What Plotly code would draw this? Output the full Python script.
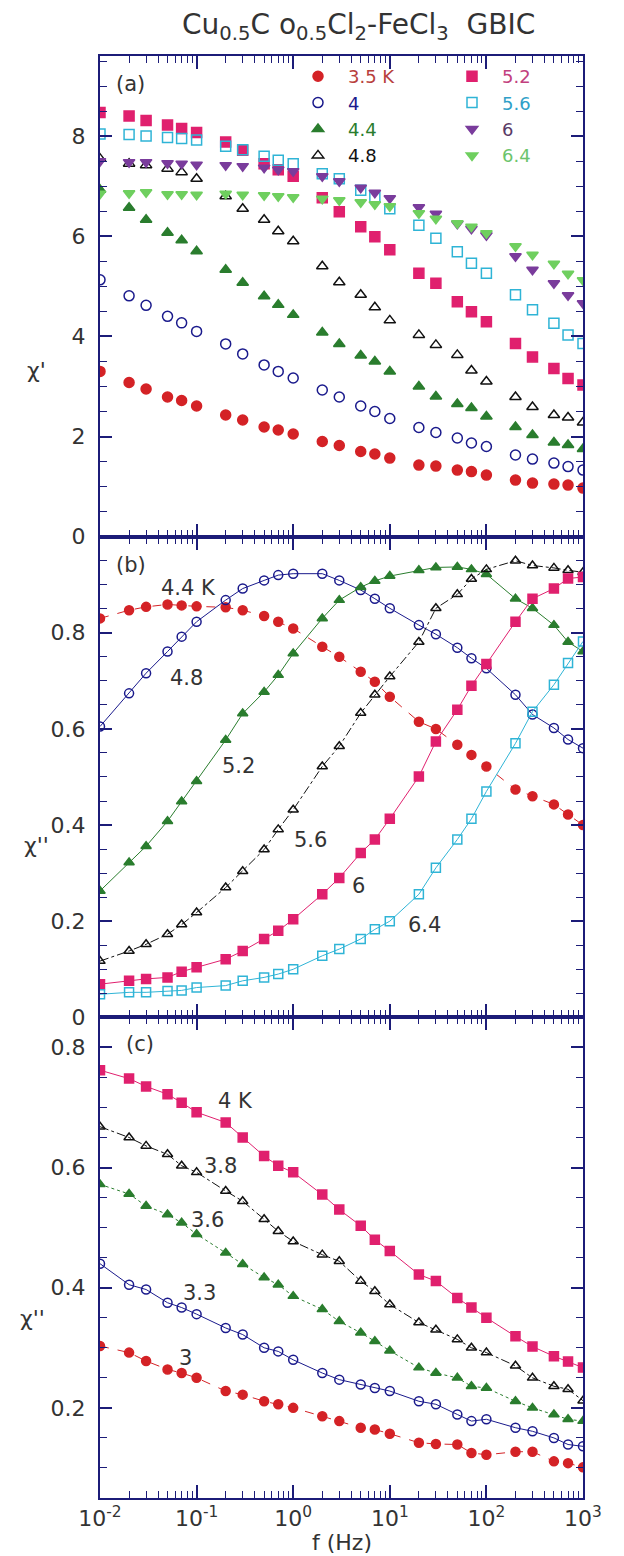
import plotly.graph_objects as go

# frequencies (Hz), shared by every series
freq = [0.01, 0.02, 0.03, 0.05, 0.07, 0.1, 0.2, 0.3, 0.5, 0.7, 1, 2, 3, 5, 7,
        10, 20, 30, 50, 70, 100, 200, 300, 500, 700, 1000]

# panel (a): chi' at 3.5 ... 6.4 K
a_35 = [3.30, 3.08, 2.95, 2.79, 2.72, 2.61, 2.43, 2.33, 2.19, 2.13, 2.05, 1.90, 1.82,
        1.70, 1.65, 1.57, 1.43, 1.41, 1.33, 1.30, 1.23, 1.13, 1.07, 1.05, 1.03, 0.97]
a_40 = [5.13, 4.81, 4.62, 4.40, 4.27, 4.10, 3.85, 3.65, 3.43, 3.30, 3.17, 2.93, 2.79,
        2.61, 2.50, 2.36, 2.18, 2.08, 1.97, 1.87, 1.80, 1.63, 1.55, 1.47, 1.40, 1.33]
a_44 = [6.93, 6.57, 6.33, 6.07, 5.92, 5.70, 5.33, 5.07, 4.80, 4.63, 4.43, 4.08, 3.85,
        3.62, 3.50, 3.30, 3.00, 2.80, 2.65, 2.57, 2.40, 2.19, 2.03, 1.88, 1.83, 1.75]
a_48 = [7.55, 7.45, 7.42, 7.35, 7.28, 7.15, 6.80, 6.55, 6.33, 6.10, 5.90, 5.40, 5.08,
        4.83, 4.58, 4.32, 4.03, 3.83, 3.63, 3.32, 3.10, 2.79, 2.59, 2.43, 2.38, 2.28]
a_52 = [8.47, 8.40, 8.31, 8.22, 8.15, 8.07, 7.88, 7.72, 7.45, 7.33, 7.20, 6.77, 6.49,
        6.19, 5.99, 5.73, 5.26, 5.06, 4.69, 4.49, 4.29, 3.86, 3.59, 3.36, 3.16, 3.03]
a_56 = [8.04, 8.03, 8.00, 7.97, 7.95, 7.92, 7.80, 7.73, 7.60, 7.52, 7.45, 7.25, 7.15,
        6.92, 6.78, 6.55, 6.22, 5.96, 5.69, 5.46, 5.26, 4.83, 4.53, 4.26, 4.03, 3.86]
a_60 = [7.50, 7.48, 7.48, 7.46, 7.45, 7.43, 7.42, 7.40, 7.37, 7.33, 7.30, 7.20, 7.10,
        6.97, 6.87, 6.76, 6.58, 6.45, 6.25, 6.15, 6.02, 5.60, 5.33, 5.06, 4.82, 4.66]
a_64 = [6.85, 6.86, 6.88, 6.84, 6.84, 6.83, 6.85, 6.83, 6.82, 6.80, 6.78, 6.75, 6.72,
        6.68, 6.64, 6.60, 6.46, 6.35, 6.26, 6.19, 6.06, 5.80, 5.63, 5.45, 5.25, 5.12]

# panel (b): 4.4 ... 6.4 K
b_44 = [0.830, 0.847, 0.854, 0.859, 0.857, 0.855, 0.853, 0.847, 0.835, 0.823, 0.809, 0.771, 0.750,
        0.719, 0.698, 0.667, 0.615, 0.600, 0.567, 0.546, 0.522, 0.474, 0.460, 0.443, 0.422, 0.400]
b_48 = [0.605, 0.674, 0.716, 0.761, 0.792, 0.823, 0.868, 0.892, 0.909, 0.920, 0.923, 0.923, 0.909,
        0.889, 0.871, 0.851, 0.816, 0.797, 0.769, 0.747, 0.726, 0.671, 0.630, 0.602, 0.578, 0.560]
b_52 = [0.263, 0.322, 0.356, 0.408, 0.449, 0.491, 0.577, 0.632, 0.677, 0.712, 0.757, 0.830, 0.868,
        0.895, 0.908, 0.918, 0.930, 0.936, 0.937, 0.932, 0.922, 0.871, 0.851, 0.816, 0.781, 0.761]
b_56 = [0.117, 0.138, 0.152, 0.173, 0.193, 0.218, 0.270, 0.304, 0.349, 0.391, 0.432, 0.522, 0.564,
        0.633, 0.671, 0.709, 0.781, 0.851, 0.880, 0.912, 0.932, 0.950, 0.940, 0.935, 0.930, 0.926]
b_60 = [0.069, 0.076, 0.080, 0.083, 0.095, 0.104, 0.121, 0.138, 0.163, 0.180, 0.204, 0.256, 0.290,
        0.342, 0.370, 0.413, 0.501, 0.574, 0.640, 0.690, 0.735, 0.823, 0.871, 0.892, 0.913, 0.916]
b_64 = [0.048, 0.052, 0.052, 0.055, 0.056, 0.062, 0.066, 0.076, 0.083, 0.090, 0.100, 0.128, 0.142,
        0.163, 0.183, 0.200, 0.256, 0.311, 0.370, 0.413, 0.470, 0.570, 0.636, 0.692, 0.737, 0.782]

# panel (c): 3 ... 4 K
c_40 = [0.762, 0.748, 0.735, 0.722, 0.708, 0.692, 0.675, 0.650, 0.619, 0.603, 0.592, 0.555, 0.530,
        0.503, 0.480, 0.461, 0.422, 0.411, 0.383, 0.367, 0.350, 0.319, 0.302, 0.286, 0.277, 0.267]
c_38 = [0.668, 0.650, 0.636, 0.622, 0.603, 0.592, 0.561, 0.544, 0.514, 0.494, 0.477, 0.455, 0.444,
        0.411, 0.394, 0.372, 0.342, 0.330, 0.314, 0.300, 0.292, 0.270, 0.250, 0.236, 0.231, 0.212]
c_36 = [0.572, 0.556, 0.536, 0.522, 0.508, 0.489, 0.458, 0.439, 0.417, 0.405, 0.386, 0.364, 0.344,
        0.325, 0.311, 0.295, 0.267, 0.258, 0.250, 0.236, 0.233, 0.211, 0.200, 0.189, 0.181, 0.178]
c_33 = [0.440, 0.405, 0.397, 0.375, 0.367, 0.356, 0.333, 0.322, 0.300, 0.294, 0.280, 0.258, 0.247,
        0.239, 0.233, 0.228, 0.211, 0.206, 0.189, 0.178, 0.181, 0.167, 0.161, 0.150, 0.139, 0.136]
c_30 = [0.303, 0.292, 0.278, 0.264, 0.258, 0.250, 0.228, 0.222, 0.211, 0.206, 0.200, 0.186, 0.178,
        0.167, 0.164, 0.157, 0.142, 0.140, 0.139, 0.125, 0.122, 0.127, 0.127, 0.111, 0.108, 0.101]

decades = [0.01, 0.1, 1, 10, 100, 1000]
decade_text = ["10<sup>-2</sup>", "10<sup>-1</sup>", "10<sup>0</sup>",
               "10<sup>1</sup>", "10<sup>2</sup>", "10<sup>3</sup>"]
minor_f = [k * d for d in decades[:-1] for k in range(2, 10)]

FONT = "DejaVu Sans"
NAVY = "#1c1c78"
TXT = "#333333"
RED, BLUE, GREEN, BLACK = "#d42226", "#1a1a8c", "#2a7d2e", "#111111"
MAG, CYAN, PURP, LGREEN = "#e0206e", "#2fb4d6", "#7a3c9c", "#6fcf5f"

W, H = 624, 1556
L, R, T, B = 92, 49, 48, 66


def paper(xp, yp):
    return (xp - L) / (W - L - R), 1 - (yp - T) / (H - T - B)


fig = go.Figure()

# panel (a) - markers only, two legend columns
series_a = [
    ("3.5 K", a_35, "circle", RED, "#b8403c", "legend"),
    ("4", a_40, "circle-open", BLUE, BLUE, "legend"),
    ("4.4", a_44, "triangle-up", GREEN, GREEN, "legend"),
    ("4.8", a_48, "triangle-up-open", BLACK, BLACK, "legend"),
    ("5.2", a_52, "square", MAG, "#c2407e", "legend2"),
    ("5.6", a_56, "square-open", CYAN, "#2fa0c8", "legend2"),
    ("6", a_60, "triangle-down", PURP, "#5a3a66", "legend2"),
    ("6.4", a_64, "triangle-down", LGREEN, "#6cc46c", "legend2"),
]
for name, ys, sym, col, tcol, leg in series_a:
    fig.add_trace(go.Scatter(
        x=freq, y=ys, mode="markers", xaxis="x", yaxis="y", legend=leg,
        name=f"<span style='color:{tcol}'>{name}</span>",
        marker=dict(symbol=sym, size=10, color=col, line=dict(color=col, width=1.5)),
    ))

series_b = [
    (b_44, "circle", RED, "dash"),
    (b_48, "circle-open", BLUE, "solid"),
    (b_52, "triangle-up", GREEN, "solid"),
    (b_56, "triangle-up-open", BLACK, "dashdot"),
    (b_60, "square", MAG, "solid"),
    (b_64, "square-open", CYAN, "solid"),
]
for ys, sym, col, dash in series_b:
    fig.add_trace(go.Scatter(
        x=freq, y=ys, mode="lines+markers", xaxis="x2", yaxis="y2", showlegend=False,
        line=dict(color=col, width=1, dash=dash),
        marker=dict(symbol=sym, size=9, color=col, line=dict(color=col, width=1.5)),
    ))

series_c = [
    (c_40, "square", MAG, "solid"),
    (c_38, "triangle-up-open", BLACK, "dashdot"),
    (c_36, "triangle-up", GREEN, "dot"),
    (c_33, "circle-open", BLUE, "solid"),
    (c_30, "circle", RED, "dash"),
]
for ys, sym, col, dash in series_c:
    fig.add_trace(go.Scatter(
        x=freq, y=ys, mode="lines+markers", xaxis="x3", yaxis="y3", showlegend=False,
        line=dict(color=col, width=1, dash=dash),
        marker=dict(symbol=sym, size=9, color=col, line=dict(color=col, width=1.5)),
    ))


def xaxis(anchor, labels):
    return dict(
        type="log", range=[-2, 3], anchor=anchor, showgrid=False, zeroline=False,
        showline=True, linecolor=NAVY, linewidth=2, mirror="allticks",
        ticks="inside", ticklen=13, tickwidth=1.5, tickcolor=NAVY,
        tickmode="array", tickvals=decades, ticktext=decade_text,
        showticklabels=labels, tickfont=dict(family=FONT, size=22, color=TXT),
        minor=dict(ticks="inside", ticklen=7, tickwidth=1, tickcolor=NAVY,
                   tickmode="array", tickvals=minor_f, showgrid=False),
    )


def yaxis(anchor, dom, rng, vals, texts, mdt):
    return dict(
        domain=dom, range=rng, anchor=anchor, showgrid=False, zeroline=False,
        showline=True, linecolor=NAVY, linewidth=2, mirror="allticks",
        ticks="inside", ticklen=12, tickwidth=1.5, tickcolor=NAVY,
        tickmode="array", tickvals=vals, ticktext=texts, ticklabelstandoff=8,
        tickfont=dict(family=FONT, size=22, color=TXT),
        minor=dict(ticks="inside", ticklen=7, tickwidth=1, tickcolor=NAVY,
                   dtick=mdt, tick0=0, showgrid=False),
    )


ann = []


def label(text, xp, yp, color=TXT, size=20, xanchor="center"):
    x, y = paper(xp, yp)
    ann.append(dict(text=text, x=x, y=y, xref="paper", yref="paper", showarrow=False,
                    xanchor=xanchor, yanchor="middle",
                    font=dict(family=FONT, size=size, color=color)))


label("Cu<sub>0.5</sub>C o<sub>0.5</sub>Cl<sub>2</sub>-FeCl<sub>3</sub>  GBIC", 350, 18, size=28)
label("(a)", 106, 76, size=21, xanchor="left")
label("(b)", 106, 557, size=21, xanchor="left")
label("(c)", 116, 1036, size=21, xanchor="left")
label("f (Hz)", 334, 1534, size=22)
label("χ'", 28, 362, size=22)
label("χ''", 28, 837, size=22)
label("χ''", 24, 1310, size=22)

for txt, xp, yp in [("4.4 K", 180, 580), ("4.8", 178, 670), ("5.2", 230, 758),
                    ("5.6", 302, 832), ("6", 350, 878), ("6.4", 416, 917),
                    ("4 K", 227, 1093), ("3.8", 212, 1158), ("3.6", 199, 1212),
                    ("3.3", 191, 1285), ("3", 177, 1350)]:
    label(txt, xp, yp, size=21)


def legend_box(xp, yp):
    x, y = paper(xp, yp)
    return dict(x=x, y=y, xanchor="left", yanchor="top", orientation="v",
                itemwidth=50, tracegroupgap=0, bgcolor="rgba(0,0,0,0)",
                font=dict(family=FONT, size=18, color=TXT))


fig.update_layout(
    width=W, height=H, margin=dict(l=L, r=R, t=T, b=B),
    paper_bgcolor="white", plot_bgcolor="white",
    xaxis=xaxis("y", False), xaxis2=xaxis("y2", False), xaxis3=xaxis("y3", True),
    yaxis=yaxis("x", [2 / 3, 1], [0, 9.6], [0, 2, 4, 6, 8], ["0", "2", "4", "6", "8"], 0.5),
    yaxis2=yaxis("x2", [1 / 3, 2 / 3], [0, 1.0], [0, 0.2, 0.4, 0.6, 0.8],
                 ["0", "0.2", "0.4", "0.6", "0.8"], 0.05),
    yaxis3=yaxis("x3", [0, 1 / 3], [0.05, 0.85], [0.2, 0.4, 0.6, 0.8],
                 ["0.2", "0.4", "0.6", "0.8"], 0.05),
    legend=legend_box(280, 50),
    legend2=legend_box(434, 50),
    annotations=ann,
)

fig.write_html("out.html")
